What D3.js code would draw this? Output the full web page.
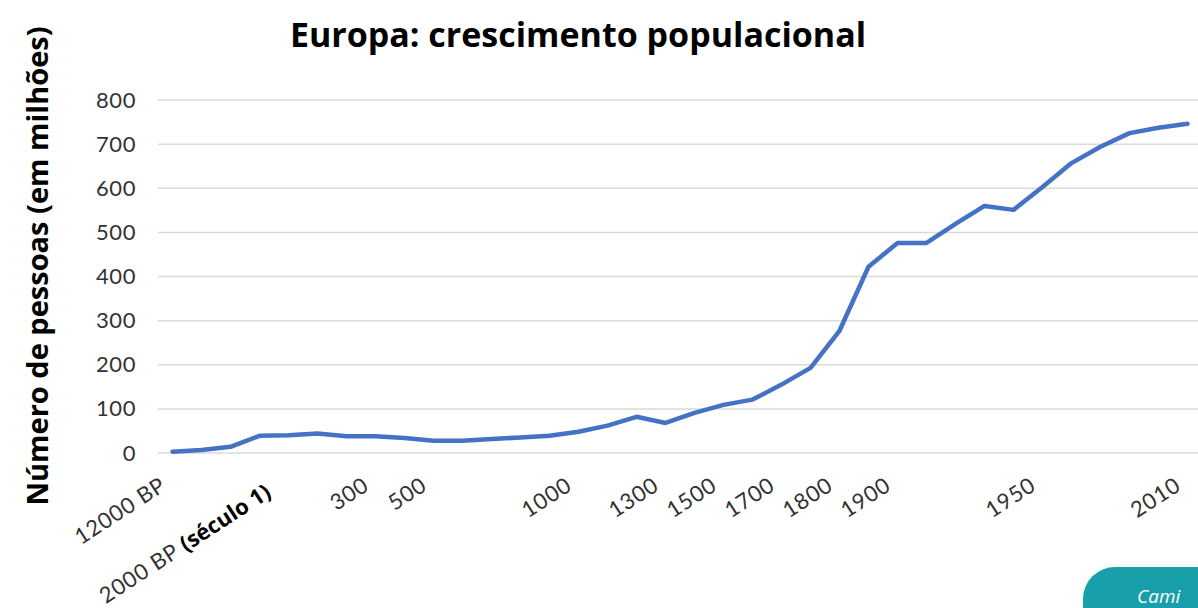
<!DOCTYPE html>
<html>
<head>
<meta charset="utf-8">
<script src="https://cdn.jsdelivr.net/npm/d3@7"></script>
<style>
  body { margin: 0; background: #fff; overflow: hidden; }
  svg { display: block; }
</style>
</head>
<body>
<div id="chart-container"></div>
<script>
// categories (most are unlabelled steps on the axis)
const categories = ["12000 BP", "", "", "", "2000 BP", "", "", "300", "", "500",
  "", "", "", "", "1000", "", "", "1300", "", "1500",
  "", "1700", "", "1800", "", "1900", "", "", "", "",
  "1950", "", "", "", "", "2010"];

// population of Europe, millions
const values = [3, 7, 14, 39, 40, 44, 38, 38, 34, 28,
  28, 32, 35, 39, 48, 62, 82, 68, 91, 109,
  121, 155, 193, 277, 422, 476, 476, 519, 560, 551,
  603, 657, 694, 725, 737, 746];

const yTicks = [0, 100, 200, 300, 400, 500, 600, 700, 800];

const width = 1198, height = 608;

const svg = d3.select('#chart-container')
  .append('svg')
  .attr('width', width)
  .attr('height', height);

const idx = d3.range(categories.length);

const x = d3.scalePoint()
  .domain(idx)
  .range([158, 1202])
  .padding(0.5);

const y = d3.scaleLinear()
  .domain([0, 800])
  .range([453, 100]);

// gridlines
svg.append('g')
  .selectAll('line')
  .data(yTicks)
  .enter()
  .append('line')
  .attr('x1', 158)
  .attr('x2', width)
  .attr('y1', d => y(d))
  .attr('y2', d => y(d))
  .attr('stroke', '#dadada')
  .attr('stroke-width', 1.5);

// y axis labels
const yAxis = d3.axisLeft(y).tickValues(yTicks).tickSize(0).tickPadding(0);
const gy = svg.append('g')
  .attr('transform', 'translate(136,0)')
  .call(yAxis);
gy.select('.domain').remove();
gy.selectAll('text')
  .attr('font-family', 'Lato, sans-serif')
  .attr('font-size', 22)
  .attr('letter-spacing', 0.6)
  .attr('fill', '#333');

// x axis labels, rotated
const gx = svg.append('g');
gx.selectAll('text')
  .data(idx.filter(i => categories[i] !== ''))
  .enter()
  .append('text')
  .attr('transform', i => `translate(${x(i) - 5 - (i === 4 ? 11 : 0)},${489 + (i === 4 ? 7 : 0)}) rotate(-33)`)
  .attr('text-anchor', 'end')
  .attr('font-family', 'Lato, sans-serif')
  .attr('font-size', 22)
  .attr('letter-spacing', 0.8)
  .attr('fill', '#333')
  .each(function(i) {
    const t = d3.select(this);
    t.append('tspan').text(categories[i]);
    if (i === 4) {
      t.append('tspan')
        .attr('font-family', '"Open Sans", sans-serif')
        .attr('font-weight', 700)
        .attr('letter-spacing', 0)
        .attr('fill', '#000')
        .text(' (século 1)');
    }
  });

// the line
const line = d3.line()
  .x((d, i) => x(i))
  .y(d => y(d));

svg.append('path')
  .datum(values)
  .attr('d', line)
  .attr('fill', 'none')
  .attr('stroke', '#4472c4')
  .attr('stroke-width', 4.5)
  .attr('stroke-linejoin', 'round')
  .attr('stroke-linecap', 'round');

// title
svg.append('text')
  .attr('x', 578)
  .attr('y', 47)
  .attr('text-anchor', 'middle')
  .attr('font-family', '"Open Sans", sans-serif')
  .attr('font-weight', 700)
  .attr('font-size', 34)
  .attr('fill', '#000')
  .text('Europa: crescimento populacional');

// y axis title
svg.append('text')
  .attr('transform', 'translate(48,266) rotate(-90)')
  .attr('text-anchor', 'middle')
  .attr('font-family', '"Open Sans", sans-serif')
  .attr('font-weight', 700)
  .attr('font-size', 29)
  .attr('fill', '#000')
  .text('Número de pessoas (em milhões)');

// teal button at the corner of the page
svg.append('rect')
  .attr('x', 1083)
  .attr('y', 567)
  .attr('width', 160)
  .attr('height', 80)
  .attr('rx', 32)
  .attr('fill', '#17a0aa');

svg.append('text')
  .attr('x', 1137)
  .attr('y', 603)
  .attr('font-family', '"Open Sans", sans-serif')
  .attr('font-style', 'italic')
  .attr('font-size', 19)
  .attr('fill', '#fff')
  .text('Cami');
</script>
</body>
</html>
